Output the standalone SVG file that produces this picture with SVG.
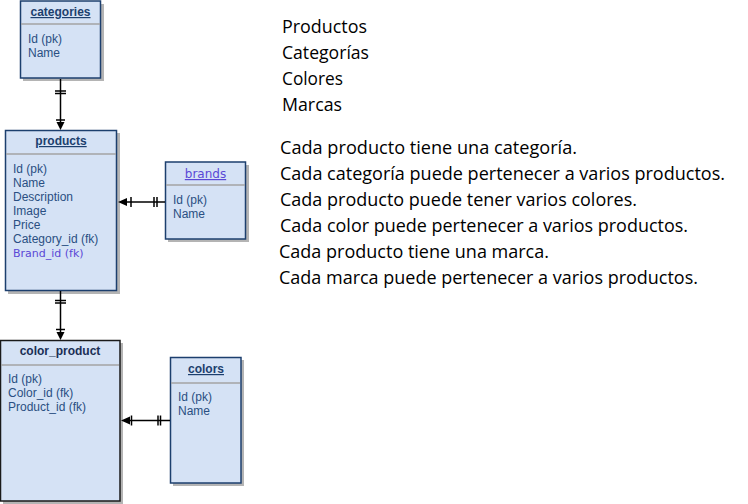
<svg xmlns="http://www.w3.org/2000/svg" width="748" height="504" viewBox="0 0 748 504">
<defs>
<style>
.shadow{fill:#b4b4b4}
.box{fill:#d5e2f5;stroke:#1c3f6e;stroke-width:1.5}
.boxk{fill:#d5e2f5;stroke:#1a1a1a;stroke-width:1.5}
.div{stroke:#a3a3a3;stroke-width:1.5}
.title{font-family:"Liberation Sans",Arial,sans-serif;font-size:12px;font-weight:bold;fill:#1c3f6e;text-anchor:middle;text-decoration:underline}
.attr{font-family:"Liberation Sans",Arial,sans-serif;font-size:12px;fill:#2a4f82}
.purple{font-family:"DejaVu Sans",Verdana,sans-serif;font-size:11px;fill:#5a48d6}
.txt{font-family:"Open Sans","Noto Sans",sans-serif;font-size:19px;fill:#000}
.ln{stroke:#000;stroke-width:1.5;fill:none}
.ah{fill:#000}
</style>
</defs>

<g id="categories">
<rect class="shadow" x="23" y="4" width="81" height="77"/>
<rect class="box" x="20.5" y="1" width="80" height="77"/>
<line class="div" x1="21" y1="24" x2="100" y2="24"/>
<text class="title" x="60.5" y="16">categories</text>
<text class="attr" x="28" y="43">Id (pk)</text>
<text class="attr" x="28" y="57">Name</text>
</g>

<g id="products">
<rect class="shadow" x="8" y="133" width="112" height="161"/>
<rect class="box" x="5.5" y="130.5" width="111" height="160"/>
<line class="div" x1="6" y1="154" x2="116" y2="154"/>
<text class="title" x="61" y="145">products</text>
<text class="attr" x="13" y="173">Id (pk)</text>
<text class="attr" x="13" y="187">Name</text>
<text class="attr" x="13" y="201">Description</text>
<text class="attr" x="13" y="215">Image</text>
<text class="attr" x="13" y="229">Price</text>
<text class="attr" x="13" y="243">Category_id (fk)</text>
<text class="purple" x="13" y="257">Brand_id (fk)</text>
</g>

<g id="brands">
<rect class="shadow" x="168" y="165" width="81" height="77"/>
<rect class="box" x="165.5" y="162" width="80" height="77"/>
<line class="div" x1="166" y1="185" x2="245" y2="185"/>
<text class="purple" x="205.5" y="178" text-anchor="middle" text-decoration="underline" style="font-size:12px">brands</text>
<text class="attr" x="173" y="204">Id (pk)</text>
<text class="attr" x="173" y="218">Name</text>
</g>

<g id="color_product">
<rect class="shadow" x="3" y="343" width="120" height="161"/>
<rect class="boxk" x="0.5" y="340.5" width="119.5" height="160.5"/>
<line class="div" x1="1" y1="365" x2="119" y2="365"/>
<text class="title" x="60" y="355" style="text-decoration:none;fill:#1a2f55">color_product</text>
<text class="attr" x="8" y="383">Id (pk)</text>
<text class="attr" x="8" y="397">Color_id (fk)</text>
<text class="attr" x="8" y="411">Product_id (fk)</text>
</g>

<g id="colors">
<rect class="shadow" x="173" y="360" width="71" height="126"/>
<rect class="box" x="170.5" y="357.5" width="70.5" height="125.5"/>
<line class="div" x1="171" y1="383" x2="240" y2="383"/>
<text class="title" x="206" y="373">colors</text>
<text class="attr" x="178" y="401">Id (pk)</text>
<text class="attr" x="178" y="415">Name</text>
</g>

<g id="connectors">
<line class="ln" x1="60.5" y1="79" x2="60.5" y2="124"/>
<line class="ln" x1="55" y1="91" x2="66" y2="91"/>
<line class="ln" x1="55" y1="93.5" x2="66" y2="93.5"/>
<line class="ln" x1="56" y1="120" x2="65" y2="120"/>
<polygon class="ah" points="56.5,122 64.5,122 60.5,130"/>
<line class="ln" x1="60.5" y1="291" x2="60.5" y2="334"/>
<line class="ln" x1="55" y1="300.5" x2="66" y2="300.5"/>
<line class="ln" x1="55" y1="303" x2="66" y2="303"/>
<line class="ln" x1="56" y1="329.5" x2="65" y2="329.5"/>
<polygon class="ah" points="56.5,332 64.5,332 60.5,340"/>
<line class="ln" x1="123" y1="202" x2="165" y2="202"/>
<line class="ln" x1="154" y1="197" x2="154" y2="207"/>
<line class="ln" x1="157" y1="197" x2="157" y2="207"/>
<line class="ln" x1="131" y1="197" x2="131" y2="207"/>
<polygon class="ah" points="118,202 127,198 127,206"/>
<line class="ln" x1="126" y1="420.5" x2="170" y2="420.5"/>
<line class="ln" x1="158" y1="415.5" x2="158" y2="425.5"/>
<line class="ln" x1="160.5" y1="415.5" x2="160.5" y2="425.5"/>
<line class="ln" x1="131.5" y1="415.5" x2="131.5" y2="425.5"/>
<polygon class="ah" points="121,420.5 130,416.5 130,424.5"/>
</g>

<g id="notes">
<text class="txt" x="282" y="33" textLength="85" lengthAdjust="spacingAndGlyphs">Productos</text>
<text class="txt" x="282" y="59" textLength="87" lengthAdjust="spacingAndGlyphs">Categorías</text>
<text class="txt" x="282" y="85" textLength="61" lengthAdjust="spacingAndGlyphs">Colores</text>
<text class="txt" x="282" y="111" textLength="60" lengthAdjust="spacingAndGlyphs">Marcas</text>
<text class="txt" x="280" y="154" textLength="297" lengthAdjust="spacingAndGlyphs">Cada producto tiene una categoría.</text>
<text class="txt" x="280" y="180" textLength="445" lengthAdjust="spacingAndGlyphs">Cada categoría puede pertenecer a varios productos.</text>
<text class="txt" x="280" y="206" textLength="357" lengthAdjust="spacingAndGlyphs">Cada producto puede tener varios colores.</text>
<text class="txt" x="280" y="232" textLength="408" lengthAdjust="spacingAndGlyphs">Cada color puede pertenecer a varios productos.</text>
<text class="txt" x="279" y="258" textLength="270" lengthAdjust="spacingAndGlyphs">Cada producto tiene una marca.</text>
<text class="txt" x="279" y="284" textLength="419" lengthAdjust="spacingAndGlyphs">Cada marca puede pertenecer a varios productos.</text>
</g>
</svg>
